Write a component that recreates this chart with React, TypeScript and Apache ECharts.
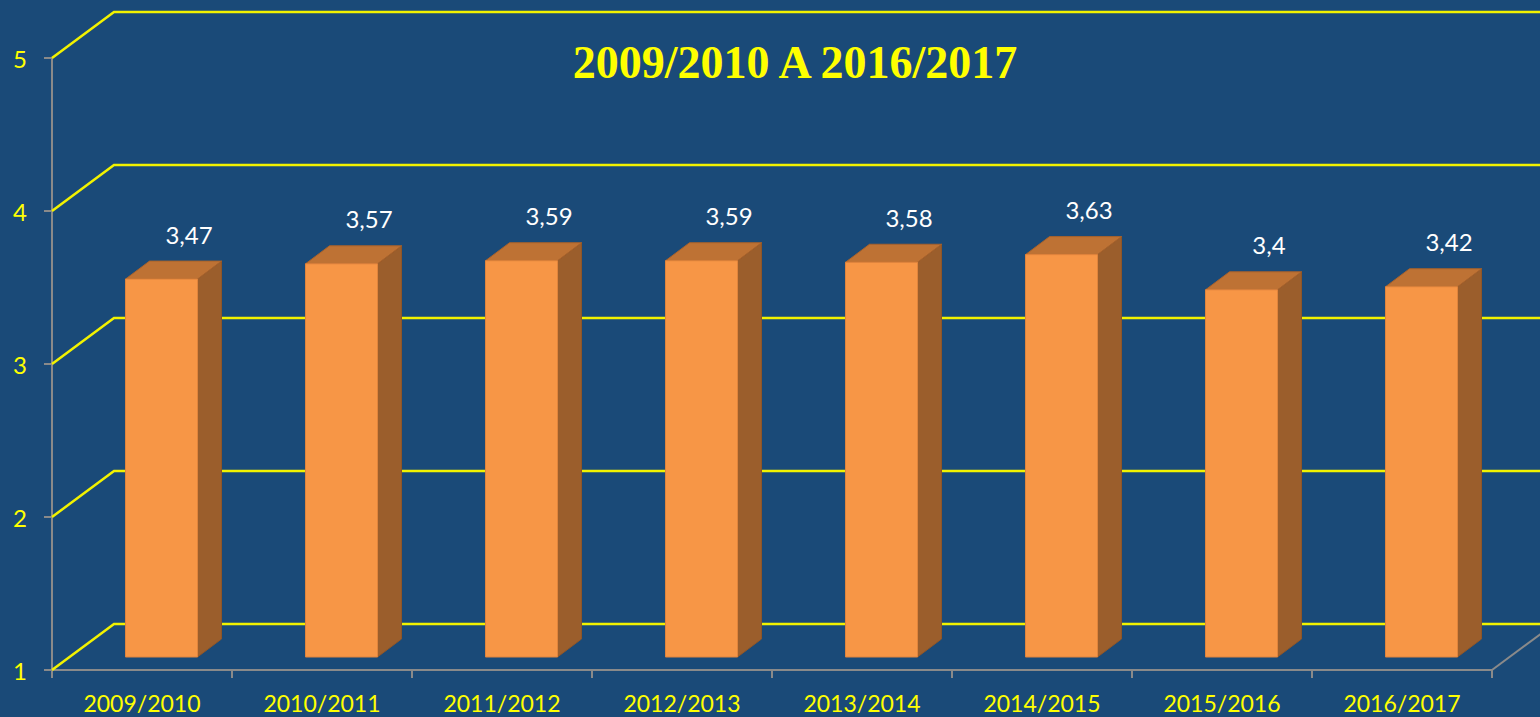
import React, { useEffect, useRef } from "react";
import * as echarts from "echarts";

const categories = ["2009/2010", "2010/2011", "2011/2012", "2012/2013", "2013/2014", "2014/2015", "2015/2016", "2016/2017"];
const values = [3.47, 3.57, 3.59, 3.59, 3.58, 3.63, 3.4, 3.42];
const yTicks = [1, 2, 3, 4, 5];
const titleText = "2009/2010 A 2016/2017";

const BG = "#1A4A78";
const YELLOW = "#F2F200";
const GREY = "#8A8A8A";
const FONT = "Lato, 'Open Sans', sans-serif";

export default function App() {
  const ref = useRef<HTMLDivElement>(null);

  useEffect(() => {
    if (!ref.current) return;
    const chart = echarts.init(ref.current, undefined, { renderer: "svg" });
    const DX = 62; // wall depth offset x
    const DY = 46; // wall depth offset y
    const option: any = {
      animation: false,
      backgroundColor: BG,
      title: {
        text: titleText,
        left: 790,
        top: 34,
        textAlign: "center",
        textStyle: {
          color: "#FFFF00",
          fontFamily: "'Liberation Serif', 'DejaVu Serif', serif",
          fontWeight: "bold",
          fontSize: 46,
        },
      },
      grid: { left: 52, right: 48, top: 58, bottom: 47, containLabel: false },
      xAxis: {
        type: "category",
        data: categories,
        boundaryGap: true,
        axisLine: { show: true, lineStyle: { color: GREY, width: 2 } },
        axisTick: { show: true, length: 8, lineStyle: { color: GREY, width: 2 } },
        axisLabel: { color: "#FFFF00", fontSize: 23, fontFamily: FONT, margin: 21 },
        splitLine: { show: false },
      },
      yAxis: {
        type: "value",
        min: 1,
        max: 5,
        interval: 1,
        axisLine: { show: true, lineStyle: { color: GREY, width: 2 } },
        axisTick: { show: true, length: 8, lineStyle: { color: GREY, width: 2 } },
        axisLabel: { color: "#FFFF00", fontSize: 24, fontFamily: FONT, margin: 25 },
        splitLine: { show: false },
      },
      series: [
        {
          type: "custom",
          z: 1,
          silent: true,
          data: yTicks.map((v) => [0, v]),
          encode: { x: 0, y: 1 },
          renderItem: (params: any, api: any) => {
            const cs = params.coordSys;
            const v = api.value(1);
            const y = api.coord([0, v])[1];
            const x0 = cs.x;
            const x1 = cs.x + cs.width;
            const children: any[] = [
              {
                type: "polyline",
                shape: { points: [[x0, y], [x0 + DX, y - DY], [x1 + DX + 20, y - DY]] },
                style: { stroke: YELLOW, lineWidth: 2.5, fill: null },
              },
            ];
            if (v === yTicks[0]) {
              children.push({
                type: "line",
                shape: { x1: x1, y1: y, x2: x1 + DX, y2: y - DY },
                style: { stroke: GREY, lineWidth: 2 },
              });
            }
            return { type: "group", children };
          },
        },
        {
          type: "custom",
          z: 2,
          data: values.map((v, i) => [i, v]),
          encode: { x: 0, y: 1 },
          renderItem: (params: any, api: any) => {
            const i = api.value(0);
            const v = api.value(1);
            const [cx, ty] = api.coord([i, v]);
            const by = api.coord([i, yTicks[0]])[1];
            const w = 72;
            const fx = cx - 16.5;
            const ftop = ty - 13;
            const fbot = by - 13;
            const ddx = 24;
            const ddy = 18;
            const label = String(v).replace(".", ",");
            return {
              type: "group",
              children: [
                {
                  type: "polygon",
                  shape: { points: [[fx + w, ftop], [fx + w + ddx, ftop - ddy], [fx + w + ddx, fbot - ddy], [fx + w, fbot]] },
                  style: { fill: "#9B5E2C", stroke: "#8E5527", lineWidth: 1 },
                },
                {
                  type: "polygon",
                  shape: { points: [[fx, ftop], [fx + ddx, ftop - ddy], [fx + w + ddx, ftop - ddy], [fx + w, ftop]] },
                  style: { fill: "#BE7234", stroke: "#A8622B", lineWidth: 1 },
                },
                {
                  type: "rect",
                  shape: { x: fx, y: ftop, width: w, height: fbot - ftop },
                  style: { fill: "#F79646", stroke: "#E0843C", lineWidth: 1 },
                },
                {
                  type: "text",
                  style: {
                    text: label,
                    x: cx + 47,
                    y: ftop - 45,
                    align: "center",
                    verticalAlign: "middle",
                    fill: "#FFFFFF",
                    font: `24px ${FONT}`,
                  },
                },
              ],
            };
          },
        },
      ],
    };
    chart.setOption(option);
    return () => chart.dispose();
  }, []);

  return (
    <div
      ref={ref}
      style={{ position: "absolute", left: 0, top: 0, width: 1540, height: 717 }}
    />
  );
}
